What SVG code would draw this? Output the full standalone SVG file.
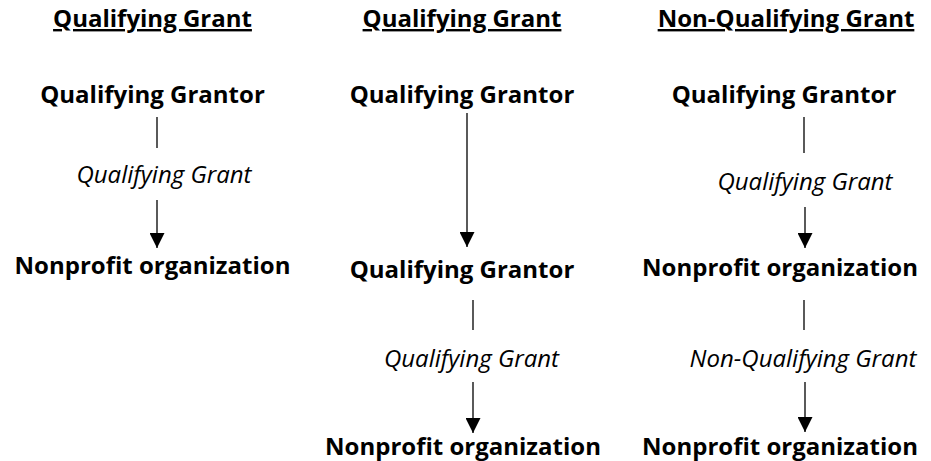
<svg xmlns="http://www.w3.org/2000/svg" width="931" height="461" viewBox="0 0 931 461">
<style>
text{font-family:"Open Sans","Liberation Sans",sans-serif;fill:#000;text-anchor:middle;font-size:24px}
.t{font-weight:bold;text-decoration:underline}
.n{font-weight:bold}
.e{font-style:italic}
.c line{stroke:#000;stroke-width:1.3}
</style>
<defs>
<marker id="ah" viewBox="0 0 15 15" refX="15" refY="7.5" markerWidth="15" markerHeight="15" markerUnits="userSpaceOnUse" orient="auto">
<path d="M0,0 L15,7.5 L0,15 z" fill="#000"/>
</marker>
</defs>
<rect width="931" height="461" fill="#fff"/>
<g id="titles">
<text class="t" x="152.5" y="27">Qualifying Grant</text>
<text class="t" x="462" y="27">Qualifying Grant</text>
<text class="t" x="786" y="27">Non-Qualifying Grant</text>
</g>
<g id="c1-grantor"><text class="n" x="152.5" y="103">Qualifying Grantor</text></g>
<g id="c1-nonprofit"><text class="n" x="152.5" y="274">Nonprofit organization</text></g>
<g id="c2-grantor1"><text class="n" x="462" y="103">Qualifying Grantor</text></g>
<g id="c2-grantor2"><text class="n" x="462" y="278">Qualifying Grantor</text></g>
<g id="c2-nonprofit"><text class="n" x="463" y="455">Nonprofit organization</text></g>
<g id="c3-grantor"><text class="n" x="784" y="103">Qualifying Grantor</text></g>
<g id="c3-nonprofit1"><text class="n" x="780" y="276">Nonprofit organization</text></g>
<g id="c3-nonprofit2"><text class="n" x="780" y="455">Nonprofit organization</text></g>
<g id="connectors" class="c">
<line x1="157" y1="117" x2="157" y2="148"/>
<text class="e" x="164" y="183">Qualifying Grant</text>
<line x1="157" y1="200" x2="157" y2="248" marker-end="url(#ah)"/>
<line x1="467" y1="113" x2="467" y2="247" marker-end="url(#ah)"/>
<line x1="473" y1="300" x2="473" y2="330"/>
<text class="e" x="471.5" y="367">Qualifying Grant</text>
<line x1="473" y1="382" x2="473" y2="433" marker-end="url(#ah)"/>
<line x1="804" y1="117" x2="804" y2="153"/>
<text class="e" x="805" y="190">Qualifying Grant</text>
<line x1="805" y1="207" x2="805" y2="248" marker-end="url(#ah)"/>
<line x1="804" y1="300" x2="804" y2="330"/>
<text class="e" x="803" y="367">Non-Qualifying Grant</text>
<line x1="805" y1="382" x2="805" y2="432" marker-end="url(#ah)"/>
</g>
</svg>
